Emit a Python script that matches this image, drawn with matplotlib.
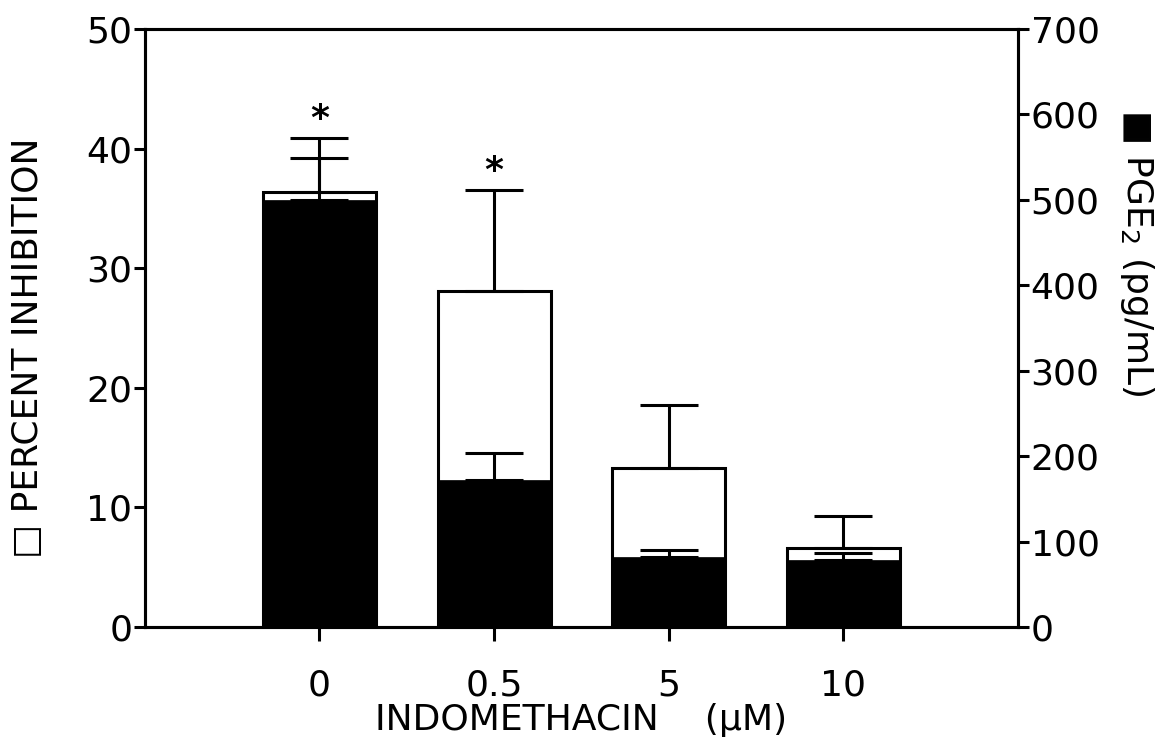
import matplotlib
matplotlib.use("Agg")
import matplotlib.pyplot as plt

# indomethacin doses and group means / SD (upper only)
doses = ["0", "0.5", "5", "10"]
pct_inhib = [36.4, 28.1, 13.3, 6.6]
pct_sd = [4.5, 8.4, 5.3, 2.7]
pge2 = [500, 172, 82, 78]
pge2_sd = [49, 32, 8, 9]
signif = [True, True, False, False]

plt.rcParams["font.family"] = ["DejaVu Sans"]

fig = plt.figure(figsize=(11.68, 7.41), dpi=100)
ax = fig.add_axes([0.124, 0.1538, 0.7476, 0.8071])
ax2 = ax.twinx()

x = list(range(len(doses)))
w = 0.647
lw = 2.2

# open bars: percent inhibition (left axis)
ax.bar(x, pct_inhib, width=w, color="white", edgecolor="black", linewidth=lw, zorder=2)
ax.errorbar(x, pct_inhib, yerr=[[0] * len(x), pct_sd], fmt="none", ecolor="black",
            elinewidth=lw, capsize=21, capthick=lw, zorder=3)

# filled bars: PGE2 (right axis), drawn above the open ones
ax2.bar(x, pge2, width=w, color="black", edgecolor="black", linewidth=0.5, zorder=2)
ax2.errorbar(x, pge2, yerr=[[0] * len(x), pge2_sd], fmt="none", ecolor="black",
             elinewidth=lw, capsize=21, capthick=lw, zorder=3)

# significance marks just above the top error cap
for i, s in enumerate(signif):
    if s:
        ax.text(x[i], pct_inhib[i] + pct_sd[i] + 1.6, "*", ha="center", va="center",
                fontsize=26, fontweight="bold")

ax.set_xlim(-1, 4)
ax.set_ylim(0, 50)
ax2.set_ylim(0, 700)
ax.set_xticks(x)
ax.set_xticklabels(doses)
ax.set_yticks(range(0, 51, 10))
ax2.set_yticks(range(0, 701, 100))

for a in (ax, ax2):
    for sp in a.spines.values():
        sp.set_linewidth(lw)
    a.tick_params(axis="both", direction="out", length=8, width=lw, labelsize=26, pad=1)
ax.tick_params(axis="x", length=10, pad=20)

ax.set_xlabel("INDOMETHACIN    (\u00b5M)", fontsize=26, labelpad=0)
ax.set_ylabel("\u25a1 PERCENT INHIBITION", fontsize=26, va="center")
ax.yaxis.set_label_coords(-0.134, 0.467)
ax2.set_ylabel("\u25a0 PGE$_2$ (pg/mL)", fontsize=26, rotation=270, va="center")
ax2.yaxis.set_label_coords(1.136, 0.625)

fig.savefig("out.png", dpi=100)
